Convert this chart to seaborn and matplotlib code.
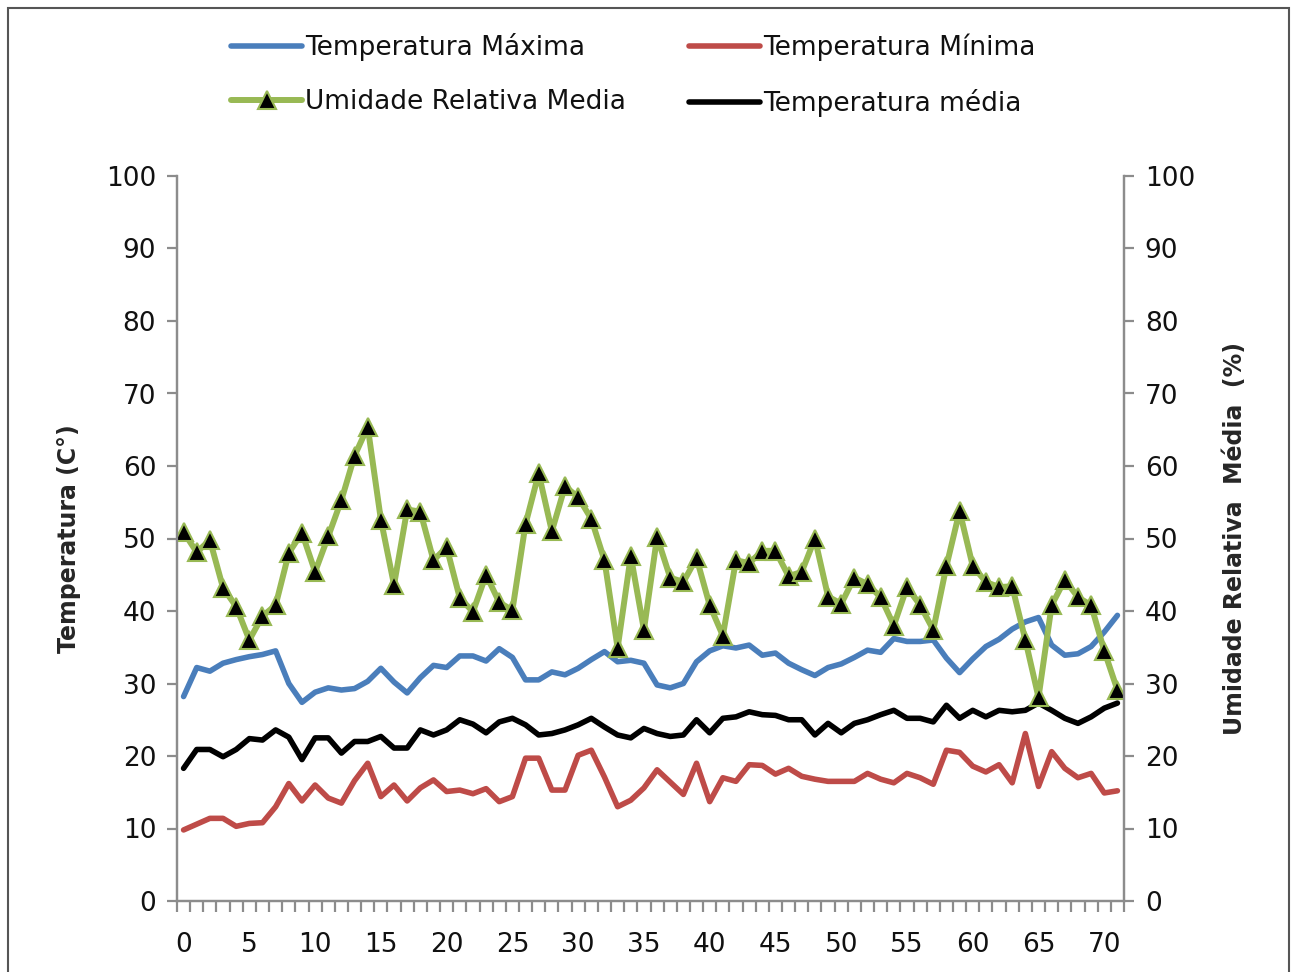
import numpy as np
import pandas as pd
import matplotlib
matplotlib.use("Agg")
import matplotlib.pyplot as plt
from matplotlib.patches import Rectangle
from matplotlib.ticker import MultipleLocator
import seaborn as sns

dias = list(range(72))

temp_max = [28.2, 32.2, 31.7, 32.8, 33.3, 33.7, 34.0, 34.5, 30.0, 27.4,
            28.8, 29.4, 29.1, 29.3, 30.3, 32.1, 30.2, 28.7, 30.8, 32.5,
            32.2, 33.8, 33.8, 33.1, 34.8, 33.6, 30.5, 30.5, 31.6, 31.2,
            32.1, 33.3, 34.4, 33.0, 33.2, 32.8, 29.8, 29.4, 30.0, 33.0,
            34.5, 35.2, 34.9, 35.3, 33.9, 34.2, 32.8, 31.9, 31.1, 32.2,
            32.7, 33.6, 34.6, 34.3, 36.2, 35.8, 35.8, 36.0, 33.5, 31.5,
            33.4, 35.1, 36.1, 37.5, 38.5, 39.1, 35.3, 33.9, 34.1, 35.1,
            37.1, 39.4]

temp_min = [9.8, 10.6, 11.4, 11.4, 10.3, 10.7, 10.8, 13.0, 16.2, 13.8,
            16.0, 14.2, 13.5, 16.6, 19.0, 14.4, 16.0, 13.8, 15.6, 16.7,
            15.1, 15.3, 14.8, 15.5, 13.7, 14.4, 19.7, 19.7, 15.3, 15.3,
            20.1, 20.8, 17.1, 13.0, 13.9, 15.6, 18.1, 16.4, 14.7, 19.0,
            13.7, 17.0, 16.5, 18.8, 18.7, 17.5, 18.3, 17.2, 16.8, 16.5,
            16.5, 16.5, 17.6, 16.8, 16.3, 17.6, 17.0, 16.1, 20.8, 20.5,
            18.6, 17.8, 18.8, 16.3, 23.1, 15.8, 20.6, 18.3, 17.0, 17.6,
            14.9, 15.2]

temp_media = [18.3, 20.9, 20.9, 19.9, 20.9, 22.4, 22.2, 23.6, 22.6, 19.5,
              22.5, 22.5, 20.4, 22.0, 22.0, 22.7, 21.1, 21.1, 23.6, 22.9,
              23.6, 25.0, 24.4, 23.2, 24.7, 25.2, 24.3, 22.9, 23.1, 23.6,
              24.3, 25.2, 24.0, 22.9, 22.5, 23.8, 23.1, 22.7, 22.9, 25.0,
              23.2, 25.2, 25.4, 26.1, 25.7, 25.6, 25.0, 25.0, 22.9, 24.5,
              23.2, 24.5, 25.0, 25.7, 26.3, 25.2, 25.2, 24.7, 27.0, 25.2,
              26.3, 25.4, 26.3, 26.1, 26.3, 27.3, 26.3, 25.2, 24.5, 25.4,
              26.6, 27.3]

umidade = [50.9, 48.1, 49.8, 43.2, 40.6, 36.0, 39.3, 40.8, 48.0, 50.8,
           45.4, 50.3, 55.3, 61.4, 65.4, 52.6, 43.6, 54.0, 53.7, 47.0,
           48.8, 41.8, 39.9, 45.0, 41.2, 40.1, 52.0, 59.0, 51.0, 57.2,
           55.7, 52.7, 47.0, 34.9, 47.6, 37.4, 50.2, 44.6, 44.0, 47.3,
           40.8, 36.6, 47.0, 46.6, 48.3, 48.3, 44.8, 45.4, 50.0, 42.0,
           41.0, 44.6, 43.7, 41.9, 38.0, 43.3, 40.8, 37.4, 46.2, 53.8,
           46.2, 44.0, 43.3, 43.4, 36.0, 28.1, 40.8, 44.3, 41.9, 40.8,
           34.5, 29.1]

df = pd.DataFrame({
    "dia": dias,
    "tmax": temp_max,
    "tmin": temp_min,
    "tmed": temp_media,
    "ur": umidade,
})

sns.set_style("white")
plt.rcParams["font.family"] = ["DejaVu Sans"]
plt.rcParams["text.color"] = "#111111"

fig = plt.figure(figsize=(12.92, 9.72), dpi=100)
ax = fig.add_axes([177 / 1292, 1 - 901 / 972, (1124 - 177) / 1292, (901 - 176) / 972])
ax2 = ax.twinx()

azul = "#4a7ebb"
vermelho = "#be4b48"
verde = "#98b954"

sns.lineplot(data=df, x="dia", y="tmax", ax=ax, color=azul, linewidth=4,
             label="Temperatura Máxima", legend=False)
sns.lineplot(data=df, x="dia", y="tmin", ax=ax, color=vermelho, linewidth=4,
             label="Temperatura Mínima", legend=False)
sns.lineplot(data=df, x="dia", y="tmed", ax=ax, color="black", linewidth=4,
             label="Temperatura média", legend=False)
sns.lineplot(data=df, x="dia", y="ur", ax=ax2, color=verde, linewidth=4.3,
             marker="^", markersize=13, markerfacecolor="black",
             markeredgecolor=verde, markeredgewidth=1.5,
             label="Umidade Relativa Media", legend=False)

for a in (ax, ax2):
    a.set_xlim(-0.5, 71.5)
    a.set_ylim(0, 100)
    a.yaxis.set_major_locator(MultipleLocator(10))
    for s in a.spines.values():
        s.set_color("#8c8c8c")
        s.set_linewidth(1.6)
    a.spines["top"].set_visible(False)

ax.set_xticks(range(0, 71, 5))
ax.xaxis.set_minor_locator(MultipleLocator(1, offset=0.5))
ax.tick_params(axis="x", which="major", length=0, labelsize=19, pad=22, colors="#111111")
ax.tick_params(axis="x", which="minor", length=8, width=1.6, color="#8c8c8c",
               direction="out", bottom=True)
ax.tick_params(axis="y", which="major", length=7, width=1.6, color="#8c8c8c",
               direction="out", labelsize=19, labelcolor="#111111", pad=8)
ax2.tick_params(axis="y", which="major", length=7, width=1.6, color="#8c8c8c",
                direction="out", labelsize=19, labelcolor="#111111", pad=8)

ax.set_xlabel("")
ax.set_ylabel("Temperatura (C°)", fontsize=17, fontweight="bold", labelpad=18)
ax2.set_ylabel("Umidade Relativa  Média  (%)", fontsize=17, fontweight="bold", labelpad=20)

h1, l1 = ax.get_legend_handles_labels()
h2, l2 = ax2.get_legend_handles_labels()
handles = [h1[0], h2[0], h1[1], h1[2]]
labels = [l1[0], l2[0], l1[1], l1[2]]
fig.legend(handles, labels, ncol=2, loc="center", bbox_to_anchor=(0.49, 1 - 75 / 972),
           frameon=False, fontsize=19, handlelength=2.7, handletextpad=0.1,
           columnspacing=2.4, labelspacing=1.05)

fig.patches.append(Rectangle((8 / 1292, -0.02), (1289 - 8) / 1292, 1 - 8 / 972 + 0.02,
                             transform=fig.transFigure, fill=False,
                             edgecolor="#555555", linewidth=1.5))

fig.savefig("out.png", dpi=100)
